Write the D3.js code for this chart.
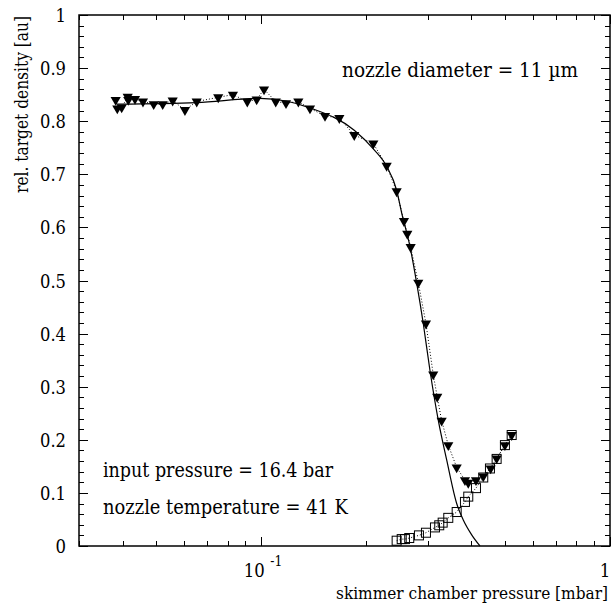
<!DOCTYPE html>
<html><head><meta charset="utf-8">
<script src="https://cdn.jsdelivr.net/npm/d3@7"></script>
<style>body{margin:0;background:#fff}svg{display:block}
.t{font-family:"DejaVu Serif Condensed","DejaVu Serif";fill:#000}
</style>
</head><body>
<script>
// Triangles (target density)
const triP = [0.03822,0.03863,0.03977,0.04138,0.04154,0.04342,0.04577,0.04913,0.05214,0.05569,0.06040,0.06527,0.07523,0.08291,0.09115,0.09699,0.1018,0.1100,0.1177,0.1277,0.1379,0.1523,0.1674,0.1847,0.2095,0.2288,0.2444,0.2565,0.2622,0.2681,0.2819,0.2966,0.3112,0.3195,0.3290,0.3437,0.3633,0.3837,0.3922,0.4127,0.4330,0.4546,0.4730,0.4996,0.5224];
const triD = [0.840,0.824,0.826,0.846,0.840,0.842,0.837,0.832,0.832,0.839,0.821,0.837,0.845,0.850,0.837,0.841,0.860,0.837,0.834,0.837,0.824,0.810,0.806,0.774,0.758,0.716,0.668,0.612,0.588,0.563,0.496,0.419,0.323,0.281,0.236,0.190,0.148,0.124,0.119,0.124,0.131,0.146,0.165,0.190,0.209];
// Squares
const sqP = [0.2444,0.2527,0.2582,0.2656,0.2832,0.2966,0.3148,0.3238,0.3312,0.3437,0.3633,0.3837,0.3922,0.4127,0.4330,0.4526,0.4730,0.4996,0.5224];
const sqD = [0.010,0.013,0.013,0.015,0.020,0.025,0.035,0.039,0.044,0.053,0.064,0.083,0.093,0.109,0.129,0.146,0.164,0.190,0.209];
// Fit curve
const fitP = [0.03847,0.06527,0.0991,0.1177,0.1379,0.1847,0.2095,0.2288,0.2444,0.2527,0.2669,0.2790,0.2914,0.3045,0.3217,0.3401,0.3633,0.3795,0.4012,0.4237];
const fitD = [0.832,0.835,0.843,0.838,0.825,0.783,0.748,0.715,0.670,0.627,0.564,0.495,0.419,0.331,0.237,0.162,0.080,0.049,0.021,0.0];
const yTicks = [0,0.1,0.2,0.3,0.4,0.5,0.6,0.7,0.8,0.9,1];
const yTickLabels = ["0","0.1","0.2","0.3","0.4","0.5","0.6","0.7","0.8","0.9","1"];
const xMajorTicks = [0.1,1];
const xTickLabels = [["10","-1"],["1",""]];

const FONT = '"DejaVu Serif Condensed","DejaVu Serif"';
const W=613,H=609, L=79,R=610,T=15,B=546;
const svg=d3.select("body").append("svg").attr("width",W).attr("height",H);
const x=d3.scaleLog().domain([0.03,1]).range([L,R]);
const y=d3.scaleLinear().domain([0,1]).range([B,T]);

function txt(str, px, py, size, anchor, len){
  const t=svg.append("text").attr("class","t").style("font-family",FONT)
    .attr("x",px).attr("y",py).attr("font-size",size)
    .attr("text-anchor",anchor).text(str);
  if(len){ t.attr("textLength",len).attr("lengthAdjust","spacingAndGlyphs"); }
  return t;
}

// ticks
const g=svg.append("g").attr("stroke","#000").attr("stroke-width",1);
const yMinor=d3.range(0,1.0001,0.02);
yMinor.forEach(v=>{
  const major = Math.abs(v*10-Math.round(v*10))<1e-6;
  const len = major?9:5;
  const yy=Math.round(y(v))+0.5;
  g.append("line").attr("x1",L).attr("x2",L+len).attr("y1",yy).attr("y2",yy);
  g.append("line").attr("x1",R).attr("x2",R-len).attr("y1",yy).attr("y2",yy);
});
const xTickVals=x.ticks();
xTickVals.forEach(v=>{
  const major = xMajorTicks.some(m=>Math.abs(m-v)<1e-9);
  const len = major?9:5;
  const xx=Math.round(x(v))+0.5;
  g.append("line").attr("x1",xx).attr("x2",xx).attr("y1",B).attr("y2",B-len);
  g.append("line").attr("x1",xx).attr("x2",xx).attr("y1",T).attr("y2",T+len);
});
// frame
svg.append("rect").attr("x",L).attr("y",T).attr("width",R-L).attr("height",B-T)
  .attr("fill","none").attr("stroke","#000").attr("stroke-width",1.5);

// y labels
yTicks.forEach((v,i)=>{
  const s=yTickLabels[i];
  txt(s, 66, y(v)+7, 19, "end", s.length>1?26:10.5);
});
// x labels
xMajorTicks.forEach((v,i)=>{
  const [base,sup]=xTickLabels[i];
  if(sup){
    txt(base, x(v)-7, 577, 19, "middle", 21);
    txt(sup, x(v)+9, 566, 14, "start", 12);
  } else {
    txt(base, x(v)-5, 577, 19, "middle", 10.5);
  }
});

// axis titles
txt("skimmer chamber pressure [mbar]", R-2, 599, 17, "end", 272);
svg.append("text").attr("class","t").style("font-family",FONT)
  .attr("transform",`translate(28,${T+1}) rotate(-90)`).attr("text-anchor","end")
  .attr("font-size",18).attr("textLength",177).attr("lengthAdjust","spacingAndGlyphs")
  .text("rel. target density [au]");

// annotations
txt("nozzle diameter = 11 \u00b5m", 342, 77, 21, "start", 236);
txt("input pressure = 16.4 bar", 103, 477, 21, "start", 230);
txt("nozzle temperature = 41 K", 103, 514, 21, "start", 245);

// fit curve
const fitData=fitP.map((p,i)=>[p,fitD[i]]);
svg.append("path").datum(fitData).attr("fill","none").attr("stroke","#000").attr("stroke-width",1.2)
  .attr("d",d3.line().x(d=>x(d[0])).y(d=>y(d[1])).curve(d3.curveMonotoneX));

// dotted lines
const triData=triP.map((p,i)=>[p,triD[i]]);
const sqData=sqP.map((p,i)=>[p,sqD[i]]);
[triData,sqData].forEach(dd=>{
  svg.append("path").datum(dd).attr("fill","none").attr("stroke","#000").attr("stroke-width",1)
    .attr("stroke-dasharray","1,2").attr("d",d3.line().x(d=>x(d[0])).y(d=>y(d[1])));
});

// squares
svg.append("g").selectAll("rect").data(sqData).enter().append("rect")
  .attr("x",d=>x(d[0])-4.5).attr("y",d=>y(d[1])-4.5).attr("width",9).attr("height",9)
  .attr("fill","none").attr("stroke","#000").attr("stroke-width",1);
// triangles
const tri=d3.symbol().type(d3.symbolTriangle).size(45);
svg.append("g").selectAll("path").data(triData).enter().append("path")
  .attr("d",tri).attr("transform",d=>`translate(${x(d[0])},${y(d[1])}) rotate(180)`).attr("fill","#000");
</script>
</body></html>
